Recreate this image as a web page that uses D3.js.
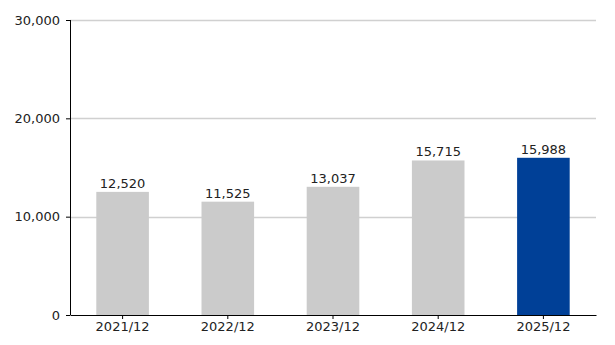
<!DOCTYPE html>
<html>
<head>
<meta charset="utf-8">
<script src="https://cdn.jsdelivr.net/npm/d3@7"></script>
<style>
  body { margin: 0; background: #fff; }
  text { font-family: "DejaVu Sans", Verdana, sans-serif; font-size: 13px; fill: #222; }
</style>
</head>
<body>
<svg id="chart" width="615" height="345"></svg>
<script>
// chart data
var categories = ["2021/12", "2022/12", "2023/12", "2024/12", "2025/12"];
var values = [12520, 11525, 13037, 15715, 15988];
var yTicks = [0, 10000, 20000, 30000];

var margin = {top: 20, right: 19, bottom: 30, left: 70};
var width = 615 - margin.left - margin.right;
var height = 345 - margin.top - margin.bottom;

var svg = d3.select("#chart");
var g = svg.append("g").attr("transform", "translate(" + margin.left + "," + margin.top + ")");

var x = d3.scaleBand().domain(categories).range([0, width]).paddingInner(0.5).paddingOuter(0.25);
var y = d3.scaleLinear().domain([0, 30000]).range([height, 0]);

// gridlines
g.selectAll(".grid")
    .data(yTicks.slice(1))
    .enter()
    .append("line")
    .attr("x1", 0)
    .attr("x2", width)
    .attr("y1", function (d) { return Math.round(y(d)) + 0.5; })
    .attr("y2", function (d) { return Math.round(y(d)) + 0.5; })
    .attr("stroke", "#d0d0d0")
    .attr("stroke-width", 1.5);

// bars
g.selectAll(".bar")
    .data(values)
    .enter()
    .append("rect")
    .attr("x", function (d, i) { return x(categories[i]); })
    .attr("y", function (d) { return y(d); })
    .attr("width", x.bandwidth())
    .attr("height", function (d) { return height - y(d); })
    .attr("fill", function (d, i) { return i == values.length - 1 ? "#004097" : "#cbcbcb"; });

// value labels
g.selectAll(".val")
    .data(values)
    .enter()
    .append("text")
    .attr("x", function (d, i) { return x(categories[i]) + x.bandwidth() / 2; })
    .attr("y", function (d) { return y(d) - 4; })
    .attr("text-anchor", "middle")
    .text(function (d) { return d3.format(",")(d); });

// y axis
var yAxis = g.append("g")
    .call(d3.axisLeft(y).tickValues(yTicks).tickFormat(d3.format(",")).tickSize(4).tickPadding(6));
yAxis.select(".domain").attr("stroke", "#000").attr("d", "M0.5," + height + "V0");
yAxis.selectAll("text").style("font-size", "13px").attr("fill", "#222");

// x axis
var xAxis = g.append("g")
    .attr("transform", "translate(0," + height + ")")
    .call(d3.axisBottom(x).tickSize(4).tickPadding(3).tickSizeOuter(0));
xAxis.select(".domain").attr("stroke", "#000");
xAxis.selectAll("text").style("font-size", "13px").attr("fill", "#222");
</script>
</body>
</html>
